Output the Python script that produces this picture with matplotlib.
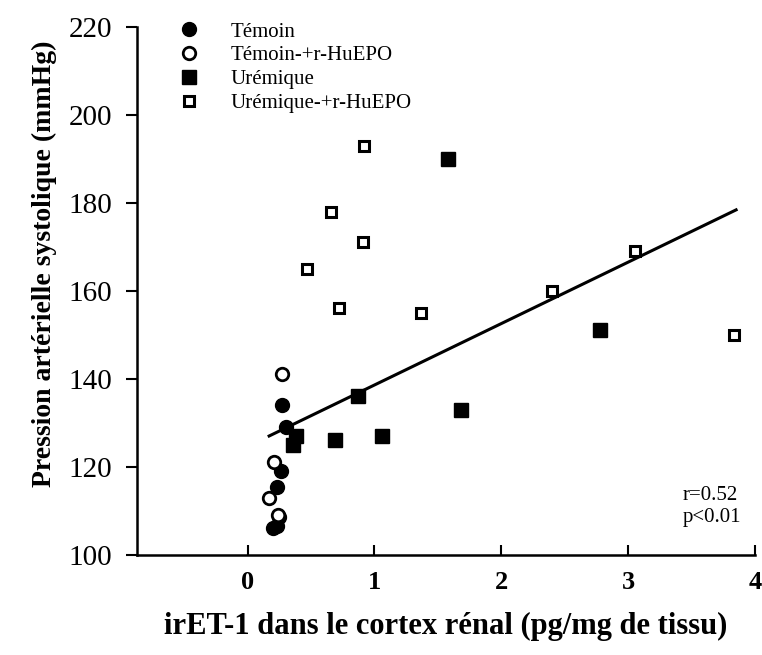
import numpy as np
import matplotlib
matplotlib.use("Agg")
import matplotlib.pyplot as plt

plt.rcParams["font.family"] = ["Liberation Serif", "DejaVu Serif"]

# values
temoin_x = [0.27, 0.30, 0.26, 0.23, 0.25, 0.20, 0.23]
temoin_y = [134, 129, 119, 115.5, 108.5, 106, 106.5]

temoin_epo_x = [0.27, 0.21, 0.17, 0.24]
temoin_epo_y = [141, 121, 113, 109]

uremique_x = [1.58, 0.87, 0.38, 0.36, 0.69, 1.06, 1.68, 2.78]
uremique_y = [190, 136, 127, 125, 126, 127, 133, 151]

uremique_epo_x = [0.92, 0.66, 0.91, 0.47, 0.72, 1.37, 2.40, 3.05, 3.83]
uremique_epo_y = [193, 178, 171, 165, 156, 155, 160, 169, 150]

# regression line ends
fit_x = [0.17, 3.85]
fit_y = [127, 178.4]

fig = plt.figure(figsize=(7.62, 6.55), dpi=100)
ax = fig.add_axes([0.18, 0.153, 0.811, 0.806])

ax.plot(fit_x, fit_y, color="black", lw=2.2, zorder=2)

ax.plot(temoin_x, temoin_y, "o", ms=10, color="black", ls="none",
        label="Témoin", zorder=3)
ax.plot(temoin_epo_x, temoin_epo_y, "o", ms=9, mfc="white", mec="black",
        mew=2, ls="none", label="Témoin-+r-HuEPO", zorder=3)
ax.plot(uremique_x, uremique_y, "s", ms=9.5, color="black", ls="none",
        label="Urémique", zorder=3)
ax.plot(uremique_epo_x, uremique_epo_y, "s", ms=7.5, mfc="white", mec="black",
        mew=2.2, ls="none", label="Urémique-+r-HuEPO", zorder=3)

ax.set_xlim(-0.87, 4.0)
ax.set_ylim(100, 220)
ax.set_xticks([0, 1, 2, 3, 4])
ax.set_yticks(np.arange(100, 221, 20))

for s in ["top", "right"]:
    ax.spines[s].set_visible(False)
ax.spines["left"].set_linewidth(1.8)
ax.spines["bottom"].set_linewidth(1.8)

ax.tick_params(axis="x", direction="in", length=7, width=1.5, pad=12,
               labelsize=19)
ax.tick_params(axis="y", direction="out", length=8, width=1.5, pad=10,
               labelsize=21)
for lbl in ax.get_xticklabels():
    lbl.set_fontweight("bold")

ax.set_xlabel("irET-1 dans le cortex rénal (pg/mg de tissu)",
              fontsize=22, fontweight="bold")
ax.set_ylabel("Pression artérielle systolique (mmHg)",
              fontsize=20, fontweight="bold")
ax.xaxis.set_label_coords(0.5, -0.108)
ax.yaxis.set_label_coords(-0.13, 0.551)

ax.text(0.882, 0.13, "r=0.52\np<0.01", transform=ax.transAxes,
        fontsize=15, ha="left", va="top", linespacing=1.2)

ax.legend(loc="upper left", bbox_to_anchor=(0.05, 1.025), frameon=False,
          fontsize=15, handletextpad=1.4, labelspacing=0.2,
          borderaxespad=0, handlelength=1.2)

fig.savefig("out.png", dpi=100)
